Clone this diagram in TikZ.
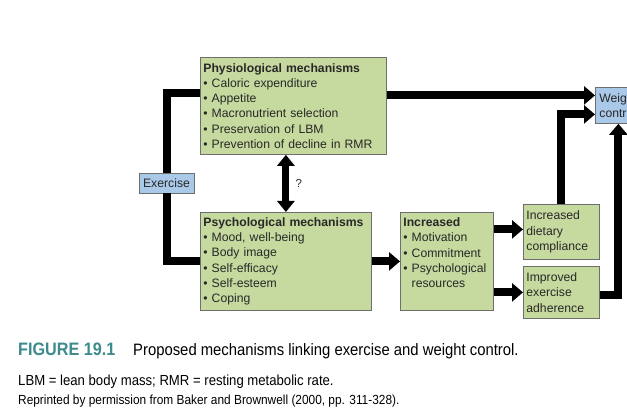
\documentclass[tikz,border=0pt]{standalone}
\usepackage{fontspec}
\setmainfont{Liberation Sans}
\newfontfamily\condfont[FakeStretch=0.9]{Liberation Sans}
\usetikzlibrary{arrows.meta}
\definecolor{boxgreen}{RGB}{198,217,158}
\definecolor{boxblue}{RGB}{170,200,232}
\definecolor{boxedge}{RGB}{110,110,110}
\definecolor{boxtext}{RGB}{40,40,40}
\definecolor{teal}{RGB}{62,138,140}
\tikzset{
  gbox/.style={draw=boxedge, fill=boxgreen, line width=0.8pt, anchor=north west,
    align=left, inner xsep=3pt, inner ysep=2.5pt, text=boxtext,
    font=\fontsize{12.2}{15.3}\selectfont},
  bbox/.style={draw=boxedge, fill=boxblue, line width=0.8pt, align=left,
    inner sep=2pt, text=boxtext, font=\fontsize{12.2}{15.3}\selectfont},
  conn/.style={line width=8pt, draw=black},
  arr/.style={conn, -{Triangle[width=18pt,length=11pt]}},
  darr/.style={line width=7pt, {Triangle[width=17pt,length=11pt]}-{Triangle[width=17pt,length=11pt]}},
}
\begin{document}
\begin{tikzpicture}[x=1pt,y=-1pt]
\useasboundingbox (0,0) rectangle (627,419);
% boxes
\node[gbox, text width=180pt, minimum width=186pt, minimum height=97pt] (phys) at (200,57)
  {\textbf{Physiological mechanisms}\\
   \textbullet\ Caloric expenditure\\
   \textbullet\ Appetite\\
   \textbullet\ Macronutrient selection\\
   \textbullet\ Preservation of LBM\\
   \textbullet\ Prevention of decline in RMR};
\node[gbox, text width=165pt, minimum width=171pt, minimum height=98pt] (psych) at (200,212)
  {\textbf{Psychological mechanisms}\\
   \textbullet\ Mood, well-being\\
   \textbullet\ Body image\\
   \textbullet\ Self-efficacy\\
   \textbullet\ Self-esteem\\
   \textbullet\ Coping};
\node[gbox, text width=87pt, minimum width=93pt, minimum height=98pt] (inc) at (400,212)
  {\textbf{Increased}\\
   \textbullet\ Motivation\\
   \textbullet\ Commitment\\
   \textbullet\ Psychological\\
   \phantom{\textbullet\ }resources\par\vspace*{17pt}};
\node[gbox, text width=70pt, minimum width=76pt, minimum height=55pt] (diet) at (523,204)
  {Increased\\ dietary\\ compliance};
\node[gbox, text width=70pt, minimum width=76pt, minimum height=52pt] (adh) at (523,266)
  {Improved\\ exercise\\ adherence};
\node[bbox, anchor=center, minimum width=55pt, minimum height=20pt] (ex) at (166.5,183) {Exercise};
\node[bbox, anchor=north west, inner xsep=4pt, text width=38pt, minimum width=46pt, minimum height=36pt] (wc) at (595,87)
  {Weight\\ control};
% connectors
\draw[conn] (ex.north) |- ([yshift=12.5pt]phys.west);
\draw[conn] (ex.south) |- (psych.west);
\draw[arr] ([yshift=10.5pt]phys.east) -- ([yshift=10.5pt]phys.east -| wc.west);
\draw[arr] (diet.north) |- ([yshift=-9pt]wc.west);
\draw[arr] ([yshift=-3pt]adh.east) -| (wc.south);
\draw[arr] (psych.east) -- (psych.east -| inc.west);
\draw[arr] ([yshift=2.5pt]diet.west -| inc.east) -- ([yshift=2.5pt]diet.west);
\draw[arr] (adh.west -| inc.east) -- (adh.west);
\draw[darr] (psych.north |- phys.south) -- node[right=3pt, text=boxtext, font=\fontsize{11.5}{13}\selectfont] (q) {?} (psych.north);
% caption
\node[anchor=base west, inner sep=0, text=teal, font=\condfont\bfseries\fontsize{18}{20}\selectfont] (fig) at (18,356) {FIGURE 19.1};
\node[anchor=base west, inner sep=0, font=\condfont\fontsize{16.5}{18}\selectfont] (cap) at (133,356) {Proposed mechanisms linking exercise and weight control.};
\node[anchor=base west, inner sep=0, font=\condfont\fontsize{14.6}{16}\selectfont] (abbr) at (18,386) {LBM = lean body mass; RMR = resting metabolic rate.};
\node[anchor=base west, inner sep=0, font=\condfont\fontsize{13.2}{15}\selectfont] (src) at (18,405) {Reprinted by permission from Baker and Brownwell (2000, pp. 311-328).};
\end{tikzpicture}
\end{document}
